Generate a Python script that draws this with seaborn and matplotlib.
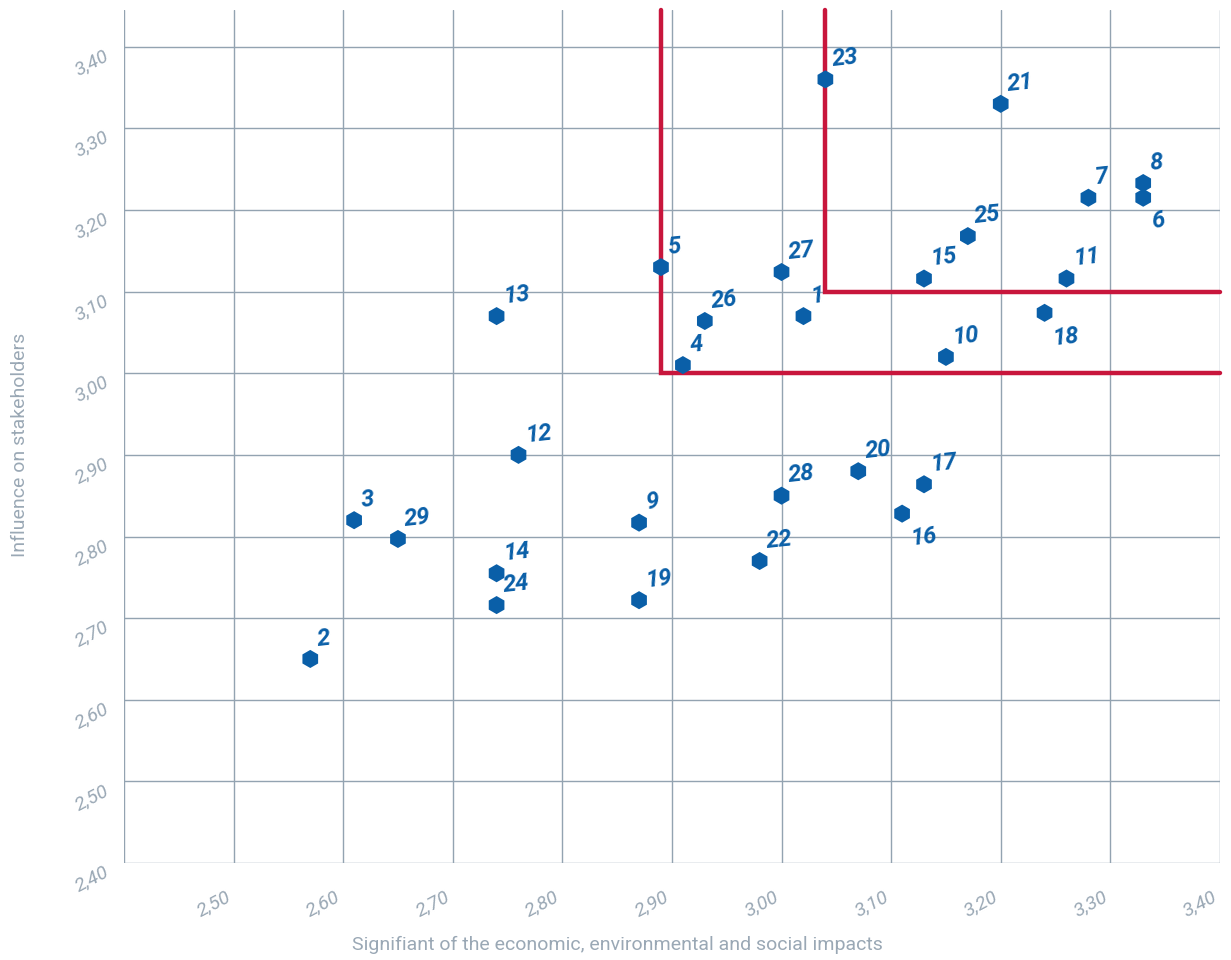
import pandas as pd
import seaborn as sns
import matplotlib.pyplot as plt
import matplotlib.transforms as mtransforms

# materiality matrix data

ids = ["1", "2", "3", "4", "5", "6", "7", "8", "9", "10",
       "11", "12", "13", "14", "15", "16", "17", "18", "19", "20",
       "21", "22", "23", "24", "25", "26", "27", "28", "29"]
impact = [3.02, 2.57, 2.61, 2.91, 2.89, 3.33, 3.28, 3.33, 2.87, 3.15,
          3.26, 2.76, 2.74, 2.74, 3.13, 3.11, 3.13, 3.24, 2.87, 3.07,
          3.20, 2.98, 3.04, 2.74, 3.17, 2.93, 3.00, 3.00, 2.65]
influence = [3.07, 2.65, 2.82, 3.01, 3.13, 3.215, 3.215, 3.233, 2.817, 3.02,
             3.116, 2.90, 3.07, 2.755, 3.116, 2.828, 2.864, 3.074, 2.722, 2.88,
             3.33, 2.77, 3.36, 2.716, 3.168, 3.064, 3.124, 2.85, 2.797]
below = ["6", "16", "18"]

ticks = [2.40, 2.50, 2.60, 2.70, 2.80, 2.90, 3.00, 3.10, 3.20, 3.30, 3.40]
tick_labels = ["2,40", "2,50", "2,60", "2,70", "2,80", "2,90", "3,00", "3,10", "3,20", "3,30", "3,40"]

# threshold boxes
box1 = (2.89, 3.00)
box2 = (3.04, 3.10)

df = pd.DataFrame({"id": ids, "impact": impact, "influence": influence})

sns.set_style("white")
plt.rcParams["font.family"] = ["Roboto", "DejaVu Sans"]

grid_c = "#93a3b1"
text_c = "#9aa8b5"
blue = "#0a5fa8"
red = "#c8163c"

fig = plt.figure(figsize=(12.31, 9.6), dpi=100)
ax = fig.add_axes([0.1007, 0.101, 0.8903, 0.8886])

ax.set_xlim(2.40, 3.40)
ax.set_ylim(2.40, 3.445)

for t in ticks:
    ax.axvline(t, color=grid_c, lw=1.0, zorder=1)
    ax.axhline(t, color=grid_c, lw=1.0, zorder=1)

for x0, y0 in [box1, box2]:
    ax.plot([x0, x0, 3.40], [3.445, y0, y0], color=red, lw=3.2, zorder=2,
            solid_joinstyle="miter", clip_on=False)

sns.scatterplot(data=df, x="impact", y="influence", marker="h", s=170,
                color=blue, edgecolor="none", ax=ax, zorder=3)

for _, r in df.iterrows():
    if r["id"] in below:
        off, va = (5, -8), "top"
    else:
        off, va = (4, 6), "bottom"
    ax.annotate(r["id"], (r["impact"], r["influence"]), xytext=off,
                textcoords="offset points", ha="left", va=va,
                fontsize=17, fontweight="bold", style="italic",
                color=blue, rotation=6, zorder=4)

for s in ax.spines.values():
    s.set_visible(False)

ax.set_xticks(ticks[1:])
ax.set_yticks(ticks)
ax.set_xticklabels(tick_labels[1:])
ax.set_yticklabels(tick_labels)
ax.tick_params(length=0, colors=text_c, labelsize=14)
for lab in ax.get_xticklabels() + ax.get_yticklabels():
    lab.set_rotation(28)
    lab.set_ha("right")
    lab.set_style("italic")
for lab in ax.get_xticklabels():
    lab.set_va("top")
ax.tick_params(axis="x", pad=18)
ax.tick_params(axis="y", pad=9)
# y tick labels sit a little below their gridlines
shift = mtransforms.ScaledTranslation(0, -0.16, fig.dpi_scale_trans)
for lab in ax.get_yticklabels():
    lab.set_va("center")
    lab.set_transform(lab.get_transform() + shift)

ax.set_xlabel("Signifiant of the economic, environmental and social impacts",
              fontsize=14, color=text_c)
ax.set_ylabel("Influence on stakeholders", fontsize=14, color=text_c)
ax.xaxis.set_label_coords(0.45, -0.085)
ax.yaxis.set_label_coords(-0.087, 0.49)

fig.savefig("out.png", dpi=100, facecolor="white")
